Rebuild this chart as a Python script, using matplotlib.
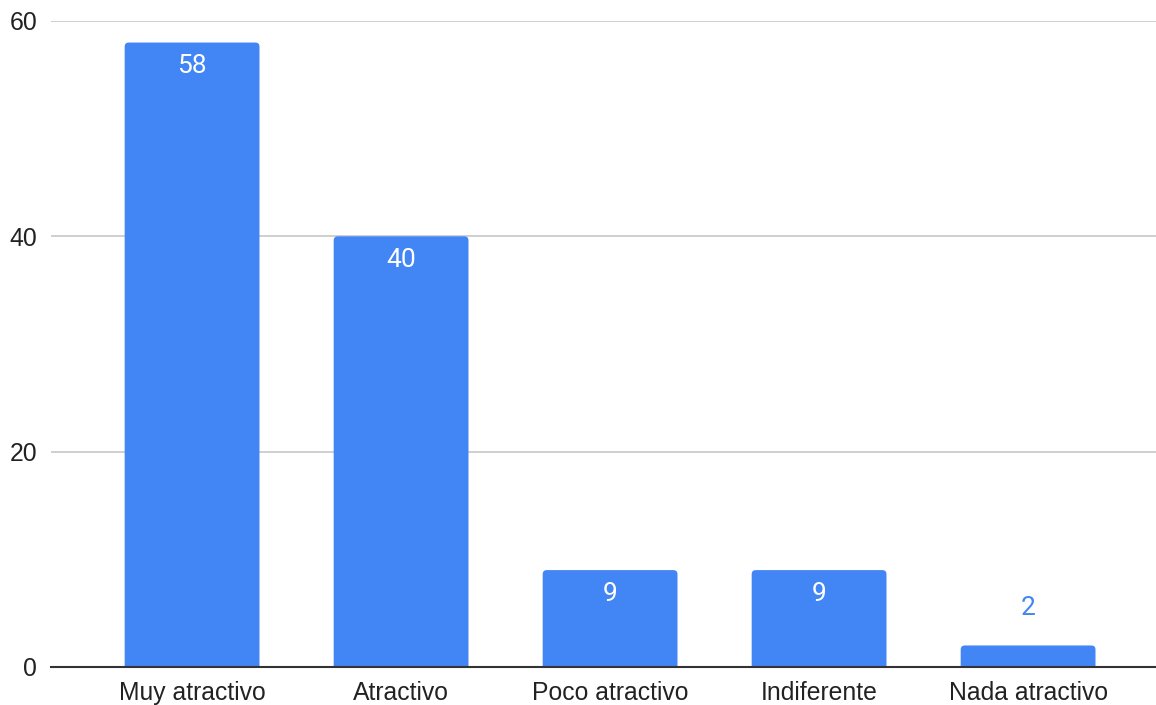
import matplotlib
matplotlib.use("Agg")
import matplotlib.pyplot as plt
from matplotlib.patches import FancyBboxPatch

categories = ["Muy atractivo", "Atractivo", "Poco atractivo", "Indiferente", "Nada atractivo"]
values = [58, 40, 9, 9, 2]
yticks = [0, 20, 40, 60]

BLUE = "#4285F4"

fig = plt.figure(figsize=(11.56, 7.05), dpi=100)
ax = fig.add_axes([51 / 1156, 1 - 667 / 705, 1 - 51 / 1156, (667 - 21) / 705])

x = list(range(len(categories)))
bars = ax.bar(x, values, width=0.645, color=BLUE, zorder=3)

# rounded top corners: replace each rectangle with a rounded box extending below the baseline
for b in bars:
    bx, by = b.get_x(), b.get_y()
    w, h = b.get_width(), b.get_height()
    rb = FancyBboxPatch((bx, by - 1.0), w, h + 1.0,
                        boxstyle="round,pad=0,rounding_size=0.02",
                        mutation_aspect=19, facecolor=BLUE, edgecolor="none",
                        zorder=3)
    ax.add_patch(rb)
    b.set_visible(False)

ax.set_xlim(-0.675, 4.612)
ax.set_ylim(0, 60)
ax.set_yticks(yticks)
ax.set_xticks(x)
ax.set_xticklabels(categories, fontfamily="Liberation Sans", fontsize=17.8, color="#222222")
ax.set_yticklabels([str(t) for t in yticks], fontfamily="Liberation Sans", fontsize=17.8, color="#222222")
ax.tick_params(axis="both", length=0)
ax.tick_params(axis="y", pad=10)
ax.tick_params(axis="x", pad=10)

ax.yaxis.grid(True, color="#cccccc", linewidth=1.3, zorder=0)
ax.set_axisbelow(True)
for s in ["top", "right", "left"]:
    ax.spines[s].set_visible(False)
ax.spines["bottom"].set_color("#333333")
ax.spines["bottom"].set_linewidth(1.5)
ax.spines["bottom"].set_zorder(4)

for xi, v in zip(x, values):
    if v >= 5:
        ax.annotate(str(v), (xi, v), xytext=(0, -8.5), textcoords="offset points",
                    ha="center", va="top", color="white", fontsize=19,
                    fontfamily="Roboto", zorder=5)
    else:
        ax.annotate(str(v), (xi, v), xytext=(0, 18), textcoords="offset points",
                    ha="center", va="bottom", color=BLUE, fontsize=19,
                    fontfamily="Roboto", zorder=5)

fig.savefig("out.png", dpi=100, facecolor="white")
